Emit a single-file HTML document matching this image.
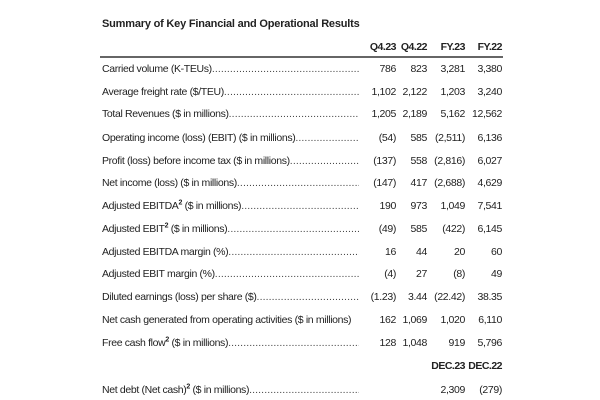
<!DOCTYPE html>
<html><head><meta charset="utf-8"><style>
html,body{margin:0;padding:0;background:#fff;}
body{width:600px;height:400px;position:relative;overflow:hidden;font-family:"Liberation Sans",Arial,sans-serif;color:#222;font-size:10.5px;letter-spacing:-0.35px;}
.t{position:absolute;left:102px;top:18px;font-weight:bold;font-size:11px;letter-spacing:-0.2px;}
.line{position:absolute;left:100px;width:403px;top:56px;height:1.5px;background:#666;}
.r{position:absolute;left:102px;height:14px;line-height:14px;white-space:nowrap;}
.lab{position:absolute;left:0;width:257px;overflow:hidden;}
.lab.d::after{content:"....................................................................................................................";letter-spacing:0.1px;color:#444;}
.v{position:absolute;text-align:right;width:60px;}
.b{font-weight:bold;letter-spacing:-0.5px;}
sup{font-size:7px;line-height:0;font-weight:bold;}
</style></head><body>
<div class="t">Summary of Key Financial and Operational Results</div>
<div class="line"></div>
<div id="rows"></div>
<script>
var cols=[396,427,465,502];
var rows=[
[null,["Q4.23","Q4.22","FY.23","FY.22"],47,1],
["Carried volume (K-TEUs)",["786","823","3,281","3,380"],69],
["Average freight rate ($/TEU)",["1,102","2,122","1,203","3,240"],92],
["Total Revenues ($ in millions)",["1,205","2,189","5,162","12,562"],114],
["Operating income (loss) (EBIT) ($ in millions)",["(54)","585","(2,511)","6,136"],138],
["Profit (loss) before income tax ($ in millions)",["(137)","558","(2,816)","6,027"],161],
["Net income (loss) ($ in millions)",["(147)","417","(2,688)","4,629"],183],
["Adjusted EBITDA<sup>2</sup> ($ in millions)",["190","973","1,049","7,541"],206],
["Adjusted EBIT<sup>2</sup> ($ in millions)",["(49)","585","(422)","6,145"],229],
["Adjusted EBITDA margin (%)",["16","44","20","60"],252],
["Adjusted EBIT margin (%)",["(4)","27","(8)","49"],274],
["Diluted earnings (loss) per share ($)",["(1.23)","3.44","(22.42)","38.35"],297],
["Net cash generated from operating activities ($ in millions)",["162","1,069","1,020","6,110"],320,0,1],
["Free cash flow<sup>2</sup> ($ in millions)",["128","1,048","919","5,796"],343],
[null,["","","DEC.23","DEC.22"],366,1],
["Net debt (Net cash)<sup>2</sup> ($ in millions)",["","","2,309","(279)"],390]
];
var h="";
rows.forEach(function(r){
 if(r[0]) h+='<div class="r" style="top:'+(r[2]-7)+'px"><div class="lab'+(r[4]?'':' d')+'"'+(r[4]?' style="width:300px"':'')+'>'+r[0]+'</div></div>';
 r[1].forEach(function(v,i){ if(v) h+='<div class="r v'+(r[3]?' b':'')+'" style="left:'+(cols[i]-60)+'px;top:'+(r[2]-7)+'px">'+v+'</div>';});
});
document.getElementById("rows").innerHTML=h;
</script>
</body></html>
